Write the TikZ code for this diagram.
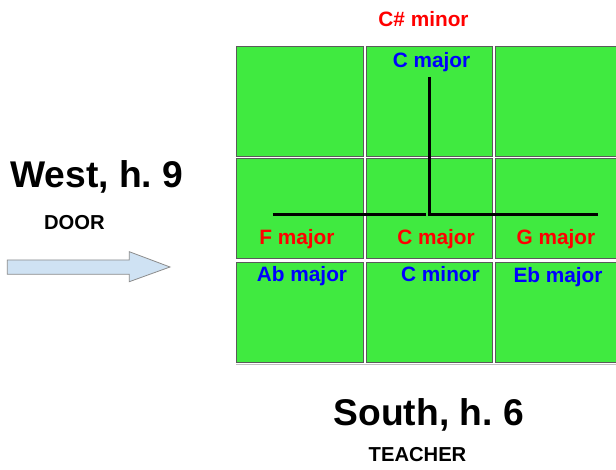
\documentclass[tikz,border=0pt]{standalone}
\usepackage{fontspec}
\setmainfont{Liberation Sans}
\frenchspacing
\definecolor{cellgreen}{RGB}{64,234,64}
\definecolor{cellborder}{RGB}{90,90,90}
\definecolor{arrowfill}{RGB}{207,226,243}
\definecolor{arrowline}{RGB}{140,140,140}
\definecolor{kred}{RGB}{255,0,0}
\definecolor{kblue}{RGB}{0,0,255}
\tikzset{
  cell/.style={draw=cellborder,line width=1pt,fill=cellgreen,rectangle,inner sep=0pt,anchor=north west},
  redlab/.style={text=kred,font=\frenchspacing\bfseries\fontsize{20.8}{24}\selectfont,inner sep=0pt,anchor=base},
  bluelab/.style={text=kblue,font=\frenchspacing\bfseries\fontsize{20.8}{24}\selectfont,inner sep=0pt,anchor=base},
  bigtitle/.style={text=black,font=\frenchspacing\bfseries\fontsize{37.2}{42}\selectfont,inner sep=0pt,anchor=base},
  smalltitle/.style={text=black,font=\frenchspacing\bfseries\fontsize{20.2}{24}\selectfont,inner sep=0pt,anchor=base},
  barline/.style={line width=3pt,black}
}
\begin{document}
\begin{tikzpicture}[x=1pt,y=-1pt]
\clip (0,0) rectangle (616,470);
\fill[white] (0,0) rectangle (616,470);
% grid
\node[cell,minimum width=126.7pt,minimum height=109.7pt] (a1) at (236,46) {};
\node[cell,minimum width=126.6pt,minimum height=109.7pt] (a2) at (365.7,46) {};
\node[cell,minimum width=130pt,minimum height=109.7pt] (a3) at (495,46) {};
\node[cell,minimum width=126.7pt,minimum height=100pt] (b1) at (236,158.3) {};
\node[cell,minimum width=126.6pt,minimum height=100pt] (b2) at (365.7,158.3) {};
\node[cell,minimum width=130pt,minimum height=100pt] (b3) at (495,158.3) {};
\node[cell,minimum width=126.7pt,minimum height=100pt] (c1) at (236,261.7) {};
\node[cell,minimum width=126.6pt,minimum height=100pt] (c2) at (365.7,261.7) {};
\node[cell,minimum width=130pt,minimum height=100pt] (c3) at (495,261.7) {};
\draw[line width=1pt,black!25] (236,365) -- (620,365);
% lines
\draw[barline] (272.7,215) -- (426,215);
\draw[barline] (429,77) -- (429,215) -- (598.3,215);
% labels
\node[redlab] (csharp) at (423.5,26.7) {C\# minor};
\node[bluelab] (cmajtop) at (431.5,67.7) {C major};
\node[redlab] (fmaj) at (297,245) {F major};
\node[redlab] (cmaj) at (436,245) {C major};
\node[redlab] (gmaj) at (556,245) {G major};
\node[bluelab] (abmaj) at (302,281.7) {Ab major};
\node[bluelab] (cmin) at (440.5,281.7) {C minor};
\node[bluelab] (ebmaj) at (558,282.7) {Eb major};
% titles
\node[bigtitle] (west) at (96.8,187.3) {West, h. 9};
\node[smalltitle] (door) at (74.3,230) {DOOR};
\node[bigtitle] (south) at (428.7,425) {South, h. 6};
\node[smalltitle] (teacher) at (417.5,461.7) {TEACHER};
% arrow
\draw[draw=arrowline,fill=arrowfill,line width=0.8pt]
  (7.3,260) -- (129.3,260) -- (129.3,251.7) -- (170,267) -- (129.3,281.7) -- (129.3,274.3) -- (7.3,274.3) -- cycle;
\coordinate (arrowtip) at (170,267);
\end{tikzpicture}
\end{document}
